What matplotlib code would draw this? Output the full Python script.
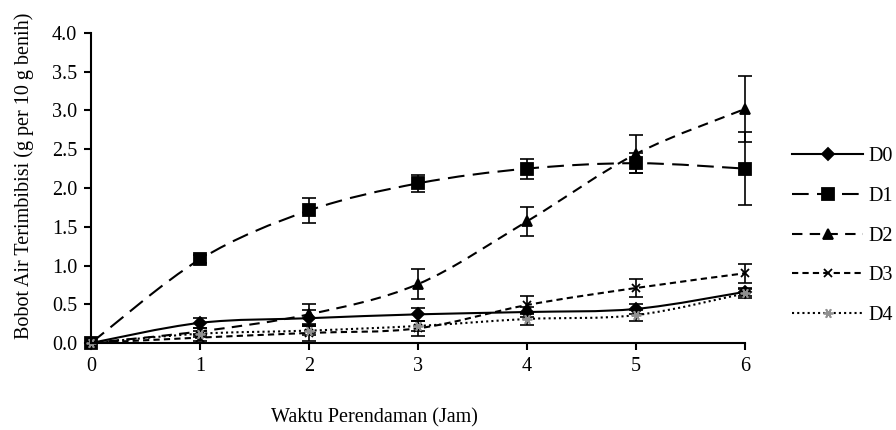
import numpy as np
import matplotlib
matplotlib.use('Agg')
import matplotlib.pyplot as plt
from matplotlib.path import Path
from matplotlib.patches import PathPatch
from matplotlib.lines import Line2D

plt.rcParams['font.family'] = ['Liberation Serif', 'DejaVu Serif']

# data
jam = [0, 1, 2, 3, 4, 5, 6]
d0 = [0.0, 0.26, 0.32, 0.37, 0.40, 0.44, 0.66]
d1 = [0.0, 1.08, 1.71, 2.06, 2.25, 2.32, 2.25]
d2 = [0.0, 0.15, 0.37, 0.76, 1.57, 2.44, 3.02]
d3 = [0.0, 0.07, 0.13, 0.19, 0.49, 0.71, 0.90]
d4 = [0.0, 0.12, 0.16, 0.22, 0.31, 0.36, 0.64]
e0 = [0.0, 0.06, 0.10, 0.08, 0.07, 0.06, 0.05]
e1 = [0.0, 0.05, 0.16, 0.11, 0.13, 0.13, 0.47]
e2 = [0.0, 0.05, 0.13, 0.19, 0.19, 0.25, 0.43]
e3 = [0.0, 0.05, 0.10, 0.10, 0.12, 0.12, 0.12]
e4 = [0.0, 0.04, 0.06, 0.06, 0.08, 0.07, 0.06]
labels = ['D0', 'D1', 'D2', 'D3', 'D4']

FS = 14.5


def smooth_path(x, y):
    # Excel-style smoothed line: cubic bezier through points
    x = np.asarray(x, float)
    y = np.asarray(y, float)
    px = np.concatenate([[x[0]], x, [x[-1]]])
    py = np.concatenate([[y[0]], y, [y[-1]]])
    verts = [(x[0], y[0])]
    codes = [Path.MOVETO]
    for i in range(1, len(x)):
        c1 = (px[i] + (px[i + 1] - px[i - 1]) / 6, py[i] + (py[i + 1] - py[i - 1]) / 6)
        c2 = (px[i + 1] - (px[i + 2] - px[i]) / 6, py[i + 1] - (py[i + 2] - py[i]) / 6)
        verts += [c1, c2, (x[i], y[i])]
        codes += [Path.CURVE4] * 3
    return Path(verts, codes)


fig = plt.figure(figsize=(8.96, 4.30), dpi=100)
ax = fig.add_axes([0.1016, 0.2023, 0.7299, 0.721])

series = [d0, d1, d2, d3, d4]
errs = [e0, e1, e2, e3, e4]
dashes = [None, (8, 4), (5, 3.5), (3, 2), (1, 1.5)]
markers = ['D', 's', '^', 'x', (6, 2, 90)]
msizes = [6, 8, 7, 5.5, 7]
mcolors = ['black', 'black', 'black', 'black', '#909090']

handles = []
for s, e, ds, m, ms, mc, lab in zip(series, errs, dashes, markers, msizes, mcolors, labels):
    patch = PathPatch(smooth_path(jam, s), fill=False, edgecolor='black', lw=1.5,
                      linestyle='-' if ds is None else (0, ds), clip_on=False)
    ax.add_patch(patch)
    ax.errorbar(jam, s, yerr=e, fmt='none', ecolor='black', elinewidth=1.2,
                capsize=5, capthick=1.2, clip_on=False)
    ax.plot(jam, s, linestyle='none', marker=m, markersize=ms, color=mc,
            markeredgecolor=mc, markeredgewidth=1.3, clip_on=False)
    h = Line2D([], [], color='black', lw=1.5,
               linestyle='-' if ds is None else (0, ds),
               marker=m, markersize=ms, markerfacecolor=mc, markeredgecolor=mc,
               markeredgewidth=1.3)
    handles.append(h)

ax.set_xlim(0, 6)
ax.set_ylim(0, 4)
ax.set_xticks(jam)
ax.set_yticks(np.arange(0, 4.01, 0.5))
ax.set_yticklabels([f'{v:.1f}' for v in np.arange(0, 4.01, 0.5)])
ax.spines['top'].set_visible(False)
ax.spines['right'].set_visible(False)
ax.spines['left'].set_linewidth(1.5)
ax.spines['bottom'].set_linewidth(1.5)
ax.tick_params(direction='out', length=5, width=1.5, labelsize=FS, pad=5)

leg = ax.legend(handles, labels, loc='center left', bbox_to_anchor=(1.06, 0.345),
                frameon=False, fontsize=FS, handlelength=3.5, labelspacing=1.03,
                handletextpad=0.3, borderaxespad=0)

fig.text(374 / 896, 1 - 418 / 430, 'Waktu Perendaman (Jam)', ha='center', va='center', fontsize=FS)
fig.text(24 / 896, 1 - 176 / 430, 'Bobot Air Terimbibisi (g per 10 g benih)', ha='center',
         va='center', rotation=90, fontsize=FS)

fig.savefig('out.png', dpi=100)
